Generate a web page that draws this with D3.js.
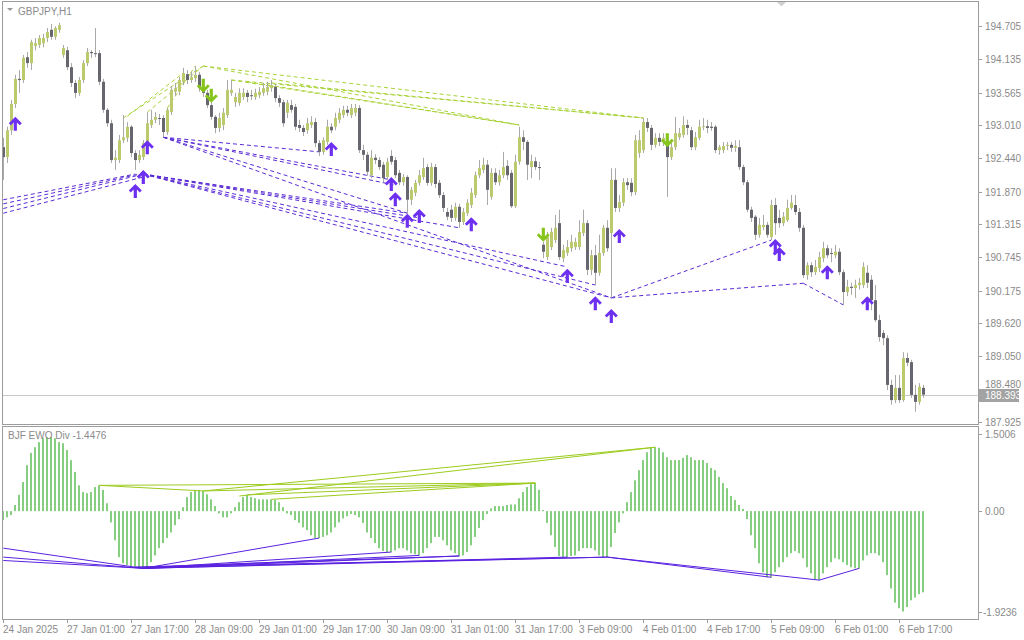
<!DOCTYPE html>
<html><head><meta charset="utf-8">
<script src="https://cdn.jsdelivr.net/npm/d3@7"></script>
<style>
body{margin:0;background:#fff;}
svg{display:block;font-family:"Liberation Sans",Arial,sans-serif;}
</style>
</head><body>
<svg id="chart" width="1024" height="640"></svg>
<script>
// ---------------- DATA ----------------
const symbolTitle = "GBPJPY,H1";
const indicatorTitle = "BJF EWO Div -1.4476";
const lastPrice = 188.393;

const open = [192.63,192.46,192.92,193.37,193.80,193.78,194.17,194.07,194.36,194.38,
194.41,194.50,194.64,194.52,194.64,194.21,194.29,194.00,193.73,193.56,
193.78,194.07,194.26,194.24,194.24,193.75,193.27,193.04,192.41,192.41,
192.75,192.79,192.98,192.53,192.41,192.46,192.70,193.01,193.10,193.13,
193.13,192.89,193.23,193.58,193.58,193.75,193.88,193.78,193.81,193.87,
193.64,193.56,193.35,193.15,192.96,193.01,193.18,193.56,193.40,193.39,
193.49,193.56,193.52,193.49,193.52,193.56,193.58,193.64,193.66,193.47,
193.40,193.22,193.35,193.32,193.01,192.96,192.92,193.01,193.06,192.70,
192.55,192.72,192.98,192.98,193.10,193.18,193.27,193.18,193.22,193.30,
192.58,192.50,192.15,192.45,192.41,192.33,192.12,192.48,192.41,192.19,
192.03,192.12,191.73,191.85,192.02,192.12,192.29,192.02,192.29,192.02,
191.81,191.52,191.56,191.42,191.61,191.35,191.50,191.64,191.81,192.15,
192.24,192.33,191.78,192.19,192.03,192.15,192.31,192.19,191.62,192.38,
192.80,192.72,192.29,192.39,192.29,190.96,190.75,190.92,191.04,191.33,
190.73,190.82,190.90,190.92,190.92,191.16,191.33,190.53,190.78,190.48,
190.82,191.25,191.16,192.07,191.59,191.68,192.03,192.02,191.86,192.53,
192.58,193.06,192.96,192.67,192.79,192.72,192.67,192.46,192.63,192.80,
192.84,193.01,192.92,192.63,192.79,192.98,192.99,192.98,192.98,192.58,
192.58,192.65,192.67,192.62,192.63,192.29,192.03,191.56,191.44,191.13,
191.26,191.30,191.09,191.64,191.42,191.33,191.38,191.59,191.64,191.52,
191.25,190.44,190.61,190.49,190.56,190.73,190.90,190.82,190.78,190.84,
190.49,190.15,190.24,190.22,190.27,190.27,190.48,190.36,190.01,189.67,
189.45,189.36,188.56,188.30,188.51,188.30,189.02,188.95,188.39,188.27,
188.51];

const high = [192.79,192.98,193.44,193.87,193.95,194.21,194.26,194.47,194.50,194.55,
194.57,194.67,194.74,194.70,194.76,194.38,194.35,194.07,193.78,193.83,
194.12,194.33,194.29,194.67,194.29,193.80,193.30,193.10,192.58,192.84,
193.18,193.06,193.01,192.58,192.58,192.75,193.23,193.27,193.23,193.20,
193.18,193.30,193.68,193.73,193.83,193.99,193.95,193.92,194.02,193.92,
193.75,193.61,193.40,193.18,193.22,193.30,193.78,193.78,193.56,193.64,
193.64,193.61,193.61,193.63,193.66,193.73,193.75,193.78,193.71,193.52,
193.44,193.44,193.44,193.37,193.10,193.01,193.13,193.16,193.13,192.75,
192.80,193.10,193.04,193.22,193.30,193.34,193.34,193.37,193.37,193.35,
192.67,192.55,192.58,192.51,192.46,192.38,192.45,192.58,192.46,192.24,
192.17,192.15,191.95,192.07,192.24,192.45,192.34,192.36,192.34,192.07,
191.86,191.59,191.64,191.68,191.66,191.59,191.74,191.93,192.21,192.41,
192.45,192.41,192.27,192.27,192.24,192.55,192.41,192.24,192.50,192.98,
192.92,192.75,192.50,192.46,192.38,191.01,191.18,191.25,191.47,191.56,
190.96,191.04,191.13,191.08,191.38,191.56,191.38,190.87,190.96,191.13,
191.30,191.38,192.27,192.27,191.81,192.10,192.10,192.10,192.84,192.92,
193.13,193.13,193.01,192.87,192.87,192.87,192.75,192.70,193.15,192.96,
193.16,193.10,192.98,192.89,193.10,193.13,193.10,193.06,193.01,192.67,
192.72,192.72,192.72,192.75,192.75,192.33,192.07,191.61,191.47,191.42,
191.47,191.35,191.73,191.76,191.56,191.52,191.73,191.81,191.81,191.59,
191.30,190.66,190.66,190.70,190.84,191.01,190.96,190.90,190.96,190.90,
190.53,190.36,190.31,190.36,190.39,190.66,190.61,190.44,190.27,189.76,
189.50,189.41,188.65,188.73,188.73,189.12,189.11,188.99,188.56,188.59,
188.56];

const low = [192.07,192.36,192.84,193.30,193.56,193.73,193.99,193.95,194.29,194.33,
194.34,194.43,194.47,194.47,194.59,194.16,193.95,193.66,193.47,193.51,
193.73,194.02,194.16,194.17,193.69,193.22,192.98,192.36,192.24,192.36,
192.70,192.72,192.46,192.24,192.36,192.41,192.65,192.96,193.04,193.01,
192.80,192.84,193.18,193.51,193.52,193.69,193.71,193.73,193.75,193.58,
193.49,193.30,193.10,192.87,192.89,192.92,193.13,193.51,193.32,193.34,
193.44,193.40,193.44,193.44,193.47,193.51,193.52,193.58,193.40,193.32,
192.98,193.13,193.22,192.92,192.89,192.82,192.86,192.96,192.63,192.48,
192.50,192.67,192.87,192.92,193.04,193.13,193.16,193.13,193.16,192.53,
192.41,192.14,192.10,192.34,192.24,192.03,192.07,192.33,192.10,191.98,
191.97,191.50,191.64,191.79,191.97,192.07,191.97,191.97,191.93,191.76,
191.52,191.38,191.35,191.37,191.25,191.30,191.45,191.59,191.76,192.10,
192.19,191.64,191.73,191.98,191.97,192.10,192.07,191.59,191.59,192.33,
192.58,192.07,192.10,192.24,192.07,190.73,190.70,190.87,190.99,190.70,
190.66,190.77,190.84,190.87,190.87,191.11,190.44,190.44,190.27,190.43,
190.77,190.84,190.05,191.52,191.52,191.62,191.90,191.79,191.81,192.45,
192.53,192.89,192.58,192.62,192.65,192.65,191.78,192.41,192.58,192.75,
192.79,192.84,192.58,192.58,192.75,192.92,192.87,192.91,192.53,192.50,
192.53,192.58,192.55,192.55,192.24,191.98,191.52,191.35,191.04,191.08,
191.21,191.08,191.04,191.13,191.25,191.28,191.35,191.56,191.47,191.18,
190.39,190.36,190.41,190.44,190.49,190.66,190.73,190.66,190.73,190.44,
189.93,190.08,190.10,190.05,190.19,190.22,190.22,189.84,189.64,189.30,
189.24,188.47,188.22,188.25,188.25,188.27,188.88,188.34,188.10,188.22,
188.34];

const close = [192.46,192.92,193.37,193.80,193.78,194.16,194.07,194.43,194.41,194.50,
194.50,194.60,194.52,194.67,194.72,194.33,194.00,193.73,193.56,193.78,
194.07,194.26,194.24,194.23,193.75,193.27,193.04,192.41,192.45,192.75,
192.80,192.98,192.53,192.41,192.50,192.70,193.04,193.10,193.15,193.12,
192.89,193.27,193.61,193.64,193.78,193.90,193.78,193.83,193.87,193.64,
193.56,193.35,193.15,192.96,193.13,193.22,193.61,193.61,193.49,193.56,
193.56,193.49,193.51,193.56,193.58,193.64,193.66,193.69,193.47,193.39,
193.04,193.39,193.27,192.98,192.96,192.89,193.04,193.06,192.70,192.55,
192.75,192.98,192.92,193.13,193.22,193.27,193.22,193.30,193.30,192.58,
192.50,192.21,192.45,192.41,192.29,192.10,192.38,192.38,192.15,192.03,
192.12,191.73,191.90,192.02,192.15,192.27,192.02,192.29,192.00,191.81,
191.59,191.44,191.42,191.61,191.35,191.52,191.68,191.85,192.15,192.27,
192.33,191.90,192.19,192.03,192.15,192.29,192.15,191.62,192.38,192.80,
192.72,192.33,192.39,192.29,192.28,190.84,191.09,191.18,191.25,190.75,
190.87,190.92,191.01,191.01,191.18,191.33,190.53,190.78,190.48,190.82,
191.25,190.90,192.07,191.59,191.69,192.03,191.98,191.86,192.75,192.75,
193.06,192.96,192.67,192.79,192.72,192.79,192.46,192.63,192.87,192.87,
193.01,192.96,192.63,192.80,192.98,192.99,192.96,192.96,192.58,192.63,
192.65,192.67,192.62,192.65,192.29,192.03,191.56,191.42,191.13,191.30,
191.30,191.13,191.64,191.33,191.33,191.44,191.59,191.68,191.52,191.25,
190.44,190.61,190.49,190.58,190.75,190.90,190.78,190.81,190.84,190.49,
190.15,190.24,190.22,190.27,190.31,190.58,190.31,190.01,189.67,189.38,
189.36,188.56,188.30,188.51,188.30,189.02,188.94,188.39,188.27,188.53,
188.393];

const ewo = [-0.16,-0.11,-0.07,0.11,0.29,0.52,0.82,1.04,1.14,1.23,
1.30,1.32,1.32,1.30,1.23,1.21,1.09,0.91,0.70,0.46,
0.34,0.32,0.34,0.43,0.46,0.38,0.14,-0.20,-0.52,-0.82,
-0.93,-0.96,-0.98,-1.00,-1.02,-1.02,-1.00,-0.91,-0.79,-0.66,
-0.57,-0.48,-0.38,-0.25,-0.14,0.07,0.25,0.34,0.38,0.38,
0.36,0.30,0.21,0.09,-0.04,-0.11,-0.11,-0.04,0.07,0.16,
0.25,0.29,0.25,0.23,0.21,0.21,0.21,0.21,0.20,0.16,
0.07,-0.04,-0.07,-0.16,-0.21,-0.29,-0.34,-0.43,-0.48,-0.48,
-0.46,-0.43,-0.38,-0.29,-0.20,-0.13,-0.09,-0.05,-0.07,-0.11,
-0.21,-0.38,-0.48,-0.57,-0.66,-0.71,-0.73,-0.73,-0.70,-0.66,
-0.66,-0.70,-0.75,-0.77,-0.79,-0.75,-0.66,-0.57,-0.46,-0.46,
-0.52,-0.61,-0.70,-0.75,-0.80,-0.79,-0.73,-0.61,-0.46,-0.30,
-0.16,-0.05,0.05,0.09,0.09,0.09,0.11,0.12,0.12,0.23,
0.34,0.43,0.48,0.50,0.38,0.02,-0.21,-0.43,-0.64,-0.80,
-0.82,-0.82,-0.80,-0.79,-0.71,-0.66,-0.66,-0.66,-0.70,-0.79,
-0.82,-0.82,-0.64,-0.39,-0.20,-0.04,0.16,0.34,0.55,0.73,
0.91,1.05,1.13,1.14,1.13,1.05,0.96,0.91,0.91,0.91,
0.95,1.00,0.96,0.91,0.91,0.91,0.86,0.77,0.73,0.61,
0.50,0.41,0.27,0.20,0.11,0.04,-0.14,-0.43,-0.66,-0.93,
-1.09,-1.18,-1.18,-1.09,-1.00,-0.91,-0.82,-0.75,-0.71,-0.75,
-0.84,-1.00,-1.11,-1.21,-1.23,-1.11,-1.00,-0.91,-0.84,-0.86,
-0.91,-0.96,-1.00,-1.02,-1.02,-0.88,-0.79,-0.75,-0.75,-0.79,
-0.91,-1.14,-1.38,-1.63,-1.73,-1.79,-1.71,-1.59,-1.54,-1.48,
-1.4476];

const priceTicks = [194.705,194.135,193.565,193.010,192.440,191.870,191.315,190.745,190.175,189.620,189.050,188.480,187.925];
const ewoTicks = [1.5006,0.00,-1.9236];
const timeTickBars = [0,16,32,48,64,80,96,112,128,144,160,176,192,208,224];
const timeTickLabels = ["24 Jan 2025","27 Jan 01:00","27 Jan 17:00","28 Jan 09:00","29 Jan 01:00","29 Jan 17:00","30 Jan 09:00","31 Jan 01:00","31 Jan 17:00","3 Feb 09:00","4 Feb 01:00","4 Feb 17:00","5 Feb 09:00","6 Feb 01:00","6 Feb 17:00"];

// arrows: [bar, price]
const bullArrows = [[3,193.03],[33,191.88],[35,192.12],[36,192.63],[82,192.60],[97,192.00],[98,191.74],[101,191.37],[104,191.45],[117,191.31],[141,190.43],[148,189.96],[152,189.74],[154,191.11],[193,190.94],[194,190.80],[206,190.49],[216,189.96]];
const bearArrows = [[50,193.68],[52,193.51],[135,191.13],[166,192.75]];

// divergence lines: [bar1, value1, bar2, value2]
const priceBullLines = [[0,191.73,33,192.17],[0,191.66,34,192.17],[0,191.58,35,192.17],[0,191.50,35,192.12],
[40,192.80,79,192.55],[40,192.80,97,192.07],[40,192.80,98,191.98],[40,192.80,101,191.50],
[35,192.17,101,191.50],[35,192.17,104,191.42],[35,192.17,114,191.25],[35,192.17,141,190.58],
[35,192.17,148,190.27],[35,192.17,152,190.05],[40,192.80,152,190.05],
[152,190.05,192,191.04],[152,190.05,200,190.30],[200,190.30,210,189.93]];
const priceBearLines = [[30,193.13,50,194.02],[31,193.16,45,193.90],[36,193.23,50,194.02],[41,193.30,48,194.02],
[50,194.02,160,193.13],[50,194.02,129,193.01],[57,193.78,160,193.13],[57,193.78,129,193.01],
[61,193.75,129,193.01],[67,193.73,160,193.13]];
const ewoBullLines = [[0,-0.66,35,-1.02],[0,-0.82,35,-1.02],[0,-0.88,35,-1.02],[35,-1.02,79,-0.48],
[35,-1.02,97,-0.73],[35,-1.02,104,-0.79],[35,-1.02,114,-0.80],[33,-1.00,114,-0.80],
[35,-1.02,141,-0.82],[35,-1.02,151,-0.82],[33,-1.00,151,-0.82],
[151,-0.82,192,-1.18],[151,-0.82,204,-1.23],[204,-1.23,214,-1.02]];
const ewoBearLines = [[24,0.46,50,0.36],[24,0.46,133,0.50],[50,0.36,163,1.14],[50,0.36,133,0.50],
[59,0.27,163,1.14],[61,0.29,133,0.50],[67,0.21,133,0.50]];

// ---------------- LAYOUT ----------------
const svg = d3.select("#chart");
const L = 2, R = 978;
const mainTop = 1, mainBot = 424;
const indTop = 426, indBot = 619;
const N = close.length;
const txt = "#8a8a8a";
const frame = "#9c9c9c";

const x = d3.scaleBand().domain(d3.range(N)).range([1.3, 1.3 + 4 * N]);
const xl = d3.scaleLinear().domain([0, N - 1]).range([x(0) + x.bandwidth() / 2, x(N - 1) + x.bandwidth() / 2]);
const y = d3.scaleLinear().domain([187.925, 194.705]).range([422, 26]);
const ye = d3.scaleLinear().domain([-1.9236, 1.5006]).range([indBot, indTop + 1]);

svg.append("rect").attr("width", 1024).attr("height", 640).attr("fill", "#fff");

const defs = svg.append("defs");
defs.append("clipPath").attr("id", "clipMain").append("rect").attr("x", L + 0.5).attr("y", mainTop + 0.5).attr("width", R - L - 1).attr("height", mainBot - mainTop - 1);
defs.append("clipPath").attr("id", "clipInd").append("rect").attr("x", L + 0.5).attr("y", indTop + 0.5).attr("width", R - L - 1).attr("height", indBot - indTop - 1);

// ---- main panel ----
const gm = svg.append("g").attr("clip-path", "url(#clipMain)");

// last price line
gm.append("line").attr("x1", L).attr("x2", R).attr("y1", Math.round(y(lastPrice)) + 0.5).attr("y2", Math.round(y(lastPrice)) + 0.5)
  .attr("stroke", "#c8c8c8").attr("stroke-width", 1);

const lineGen = (g, data, ys, color, dash, cls) => {
  g.selectAll("line." + cls).data(data).enter().append("line").attr("class", cls)
    .attr("x1", d => xl(d[0])).attr("y1", d => ys(d[1]))
    .attr("x2", d => xl(d[2])).attr("y2", d => ys(d[3]))
    .attr("stroke", color).attr("stroke-width", 1)
    .attr("stroke-dasharray", dash);
};
lineGen(gm, priceBullLines, y, "#5a2bd4", "4,3", "pbl");
lineGen(gm, priceBearLines, y, "#a8d238", "4,3", "pbr");

// candles
const cg = gm.append("g");
const idx = d3.range(N);
cg.selectAll("line.wick").data(idx).enter().append("line").attr("class", "wick")
  .attr("x1", i => Math.round(xl(i)) + 0.5).attr("x2", i => Math.round(xl(i)) + 0.5)
  .attr("y1", i => y(high[i])).attr("y2", i => y(low[i]))
  .attr("stroke", "#a9a9a9").attr("stroke-width", 1);
cg.selectAll("rect.body").data(idx).enter().append("rect").attr("class", "body")
  .attr("x", i => Math.round(xl(i)) - 1).attr("width", 3)
  .attr("y", i => y(Math.max(open[i], close[i])))
  .attr("height", i => Math.max(1, Math.abs(y(open[i]) - y(close[i]))))
  .attr("fill", i => close[i] >= open[i] ? "#bcc96c" : "#66666f");

// arrows
const upPts = [[0,-7],[6.5,-0.5],[4.5,1.5],[1.6,-1.4],[1.6,7],[-1.6,7],[-1.6,-1.4],[-4.5,1.5],[-6.5,-0.5]];
const upPath = "M" + upPts.map(p => p.join(",")).join("L") + "Z";
const downPath = "M" + upPts.map(p => [p[0], -p[1]].join(",")).join("L") + "Z";
gm.selectAll("path.bull").data(bullArrows).enter().append("path").attr("class", "bull")
  .attr("d", upPath).attr("transform", d => `translate(${xl(d[0])},${y(d[1])})`).attr("fill", "#6d2ff0");
gm.selectAll("path.bear").data(bearArrows).enter().append("path").attr("class", "bear")
  .attr("d", downPath).attr("transform", d => `translate(${xl(d[0])},${y(d[1])})`).attr("fill", "#86c51c");

// ---- indicator panel ----
const gi = svg.append("g").attr("clip-path", "url(#clipInd)");
gi.selectAll("rect.hist").data(idx).enter().append("rect").attr("class", "hist")
  .attr("x", i => Math.round(xl(i)) - 1).attr("width", 2)
  .attr("y", i => Math.min(ye(0), ye(ewo[i])))
  .attr("height", i => Math.abs(ye(ewo[i]) - ye(0)))
  .attr("fill", "#86cf80");
lineGen(gi, ewoBearLines, ye, "#9ccb1e", null, "ebr");
lineGen(gi, ewoBullLines, ye, "#5a22e0", null, "ebl");

// ---- frames ----
svg.append("rect").attr("x", L + 0.5).attr("y", mainTop + 0.5).attr("width", R - L).attr("height", mainBot - mainTop)
  .attr("fill", "none").attr("stroke", frame);
svg.append("rect").attr("x", L + 0.5).attr("y", indTop + 0.5).attr("width", R - L).attr("height", indBot - indTop)
  .attr("fill", "none").attr("stroke", frame);

// ---- price axis ----
const pa = svg.append("g");
const lpY = Math.round(y(lastPrice));
priceTicks.forEach(v => {
  const yy = Math.round(y(v)) + 0.5;
  pa.append("line").attr("x1", R).attr("x2", R + 4).attr("y1", yy).attr("y2", yy).attr("stroke", frame);
  // a tick label that would sit under the last-price box is lifted just above it
  const ty = Math.abs(yy - lpY) < 12 ? Math.min(yy + 3.5, lpY - 7.5) : yy + 3.5;
  pa.append("text").attr("x", 985).attr("y", ty).attr("font-size", 10).attr("fill", txt).text(v.toFixed(3));
});
// last price label
pa.append("rect").attr("x", 979).attr("y", lpY - 6).attr("width", 40).attr("height", 13).attr("fill", "#a3a3a3");
pa.append("text").attr("x", 985).attr("y", lpY + 4).attr("font-size", 10).attr("fill", "#fff").text(lastPrice.toFixed(3));

// ---- indicator axis ----
ewoTicks.forEach((v, k) => {
  const yy = Math.round(Math.min(Math.max(ye(v), indTop + 8), indBot - 7)) + 0.5;
  pa.append("line").attr("x1", R).attr("x2", R + 4).attr("y1", yy).attr("y2", yy).attr("stroke", frame);
  const label = k === 1 ? v.toFixed(2) : v.toFixed(4);
  pa.append("text").attr("x", v < 0 ? 983 : 985).attr("y", yy + 3.5).attr("font-size", 10).attr("fill", txt).text(label);
});

// ---- time axis ----
timeTickBars.forEach((b, k) => {
  const xx = Math.round(xl(b)) + 0.5;
  pa.append("line").attr("x1", xx).attr("x2", xx).attr("y1", indBot).attr("y2", indBot + 4).attr("stroke", frame);
  pa.append("text").attr("x", xx - 0.5).attr("y", 633).attr("font-size", 10).attr("fill", txt).text(timeTickLabels[k]);
});

// ---- titles ----
svg.append("path").attr("d", "M7,8L13,8L10,11Z").attr("fill", "#999");
svg.append("text").attr("x", 18).attr("y", 15).attr("font-size", 10).attr("fill", txt).text(symbolTitle);
svg.append("text").attr("x", 8).attr("y", 439).attr("font-size", 10).attr("fill", txt).text(indicatorTitle);
svg.append("path").attr("d", "M777,2L786,2L781.5,6.5Z").attr("fill", "#d0d0d0");
</script>
</body></html>
